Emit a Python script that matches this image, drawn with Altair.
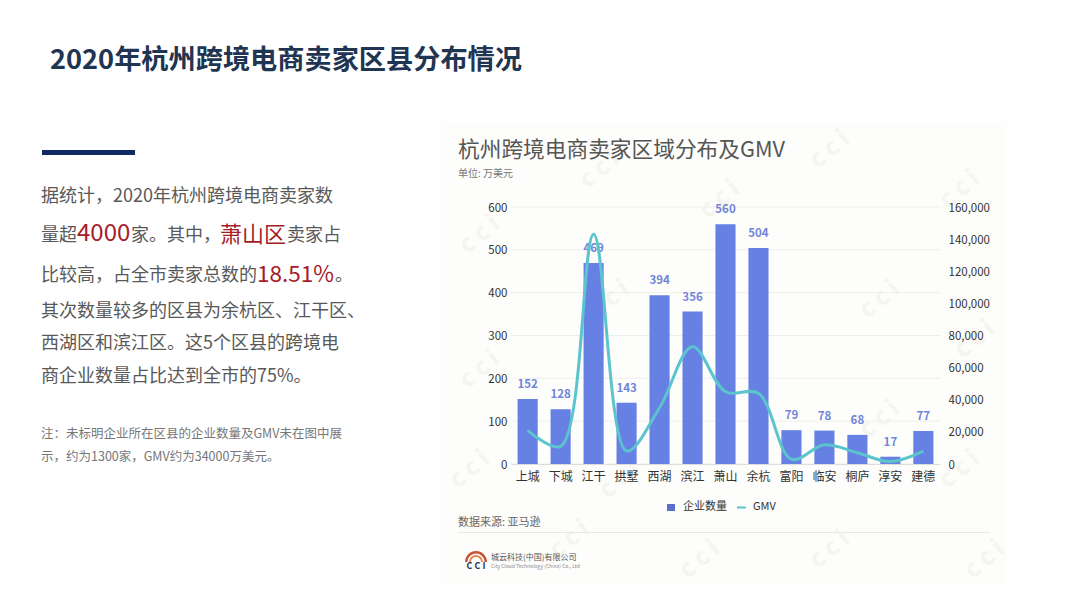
import pandas as pd
import altair as alt

FONT = "Noto Sans CJK SC"

# 数据
districts = ["上城", "下城", "江干", "拱墅", "西湖", "滨江", "萧山", "余杭", "富阳", "临安", "桐庐", "淳安", "建德"]
companies = [152, 128, 469, 143, 394, 356, 560, 504, 79, 78, 68, 17, 77]
gmv = [21000, 11000, 143000, 8000, 35000, 73000, 45000, 44000, 3000, 12000, 7000, 1500, 8000]
left_ticks = [0, 100, 200, 300, 400, 500, 600]
right_ticks = [0, 20000, 40000, 60000, 80000, 100000, 120000, 140000, 160000]

df = pd.DataFrame({"district": districts, "companies": companies, "gmv": gmv})

# 绘图区在页面上的位置
PAD_L, PAD_T = 503, 199
W, H = 429, 257
one = pd.DataFrame({"t": [""]})


def px(x):
    return x - 8 - PAD_L


def py(y):
    return y - 8 - PAD_T


def label(text, x, y, size, color, weight="normal", align="left", **kw):
    return alt.Chart(pd.DataFrame({"t": [text]})).mark_text(
        x=px(x), y=py(y), fontSize=size, color=color, fontWeight=weight,
        align=align, baseline="middle", font=FONT, **kw
    ).encode(text="t:N")


def box(x1, y1, x2, y2, color):
    return alt.Chart(one).mark_rect(color=color).encode(
        x=alt.value(px(x1)), x2=alt.value(px(x2)),
        y=alt.value(py(y1)), y2=alt.value(py(y2)),
    )


# 背景和水印
layers = [box(441, 122, 1006, 585, "#fdfdfb")]
for wx, wy in [(480, 235), (600, 170), (720, 200), (830, 150), (960, 190), (480, 370), (610, 300),
               (880, 300), (975, 340), (470, 470), (570, 540), (700, 560), (830, 550), (960, 470),
               (985, 560), (880, 420), (620, 480)]:
    layers.append(label("c c i", wx, wy, 24, "#f5f4ee", "bold", "center", angle=320))

# 左侧文字
TEXT = "#595959"
RED = "#a61c28"
layers += [
    label("2020年杭州跨境电商卖家区县分布情况", 50, 61, 27.2, "#1f3552", "bold"),
    box(42, 150, 135, 155, "#0f2a63"),
    label("据统计，2020年杭州跨境电商卖家数", 41, 197, 18, TEXT),
    label("量超", 41, 236, 18, TEXT),
    label("4000", 77, 234, 24, RED),
    label("家。其中，", 131, 236, 18, TEXT),
    label("萧山区", 220, 235, 22, RED),
    label("卖家占", 287, 236, 18, TEXT),
    label("比较高，占全市卖家总数的", 41, 276, 18, TEXT),
    label("18.51%", 257, 275, 22.5, RED),
    label("。", 335, 276, 18, TEXT),
    label("其次数量较多的区县为余杭区、江干区、", 41, 312, 18, TEXT),
    label("西湖区和滨江区。这5个区县的跨境电", 41, 344, 18, TEXT),
    label("商企业数量占比达到全市的75%。", 41, 377, 18, TEXT),
    label("注：未标明企业所在区县的企业数量及GMV未在图中展", 41, 434, 12.5, "#777777"),
    label("示，约为1300家，GMV约为34000万美元。", 41, 457, 12.5, "#777777"),
    # 图表标题
    label("杭州跨境电商卖家区域分布及GMV", 458, 150, 21.7, "#555555"),
    label("单位: 万美元", 458, 174, 10, "#777777"),
]

x = alt.X(
    "district:N", sort=districts, title=None,
    scale=alt.Scale(paddingInner=0.39, paddingOuter=0.2),
    axis=alt.Axis(labelAngle=0, labelFontSize=12, labelColor="#333333", labelFont=FONT, labelPadding=7,
                  ticks=False, domainColor="#dddddd", grid=False, zindex=1),
)
y_left = alt.Y(
    "companies:Q", title=None,
    scale=alt.Scale(domain=[0, 600]),
    axis=alt.Axis(values=left_ticks, labelFontSize=11.5, labelColor="#333333", labelFont=FONT, labelOffset=1,
                  grid=False, domain=False, ticks=False, labelPadding=4, zindex=1),
)
y_right = alt.Y(
    "gmv:Q", title=None,
    scale=alt.Scale(domain=[0, 160000]),
    axis=alt.Axis(orient="right", values=right_ticks, format=",d", labelFontSize=11.5, labelColor="#333333",
                  labelFont=FONT, labelOffset=1, grid=False, domain=False, ticks=False, labelPadding=8, zindex=1),
)

# 网格线放在背景之上、柱子之下
grid = alt.Chart(pd.DataFrame({"v": left_ticks})).mark_rule(color="#eeeeec").encode(
    y=alt.Y("v:Q", scale=alt.Scale(domain=[0, 600]), axis=None)
)
bars = alt.Chart(df).mark_bar(color="#6680e4").encode(x=x, y=y_left)
bar_labels = alt.Chart(df).mark_text(
    dy=-14, fontSize=11.5, fontWeight="bold", color="#7085d8", font=FONT
).encode(x=x, y=alt.Y("companies:Q", scale=alt.Scale(domain=[0, 600]), axis=None), text="companies:Q")
line = alt.Chart(df).mark_line(color="#5bc4cc", strokeWidth=3, interpolate="catmull-rom").encode(x=x, y=y_right)

layers += [grid, bars, bar_labels, line]

# 图例、来源、logo
layers += [
    box(667, 504, 675, 511, "#5a70cc"),
    label("企业数量", 683, 507, 11, "#333333"),
    box(737, 506.5, 746, 508.5, "#5bc4cc"),
    label("GMV", 753, 507, 11, "#333333"),
    label("数据来源: 亚马逊", 458, 523, 11, "#666666"),
    box(458, 532, 990, 533, "#e8e8e8"),
    alt.Chart(one).mark_arc(x=px(476), y=py(562), radius=11, radius2=8.5, theta=4.71, theta2=7.85, color="#c8553a").encode(),
    alt.Chart(one).mark_arc(x=px(476), y=py(562), radius=7, radius2=5, theta=4.71, theta2=7.85, color="#e08a5a").encode(),
    label("C C I", 476, 566, 9, "#1f3552", "bold", "center"),
    label("城云科技(中国)有限公司", 491, 558, 8, "#555555"),
    label("City Cloud Technology (China) Co., Ltd", 491, 566, 5, "#888888"),
]

chart = alt.layer(*layers).resolve_scale(y="independent").properties(
    width=W, height=H,
    padding={"left": PAD_L, "top": PAD_T, "right": 1064 - PAD_L - W, "bottom": 592 - PAD_T - H},
    autosize="none", background="white",
).configure_view(stroke=None)

chart.save("out.html", embed_options={"renderer": "svg", "actions": False})
